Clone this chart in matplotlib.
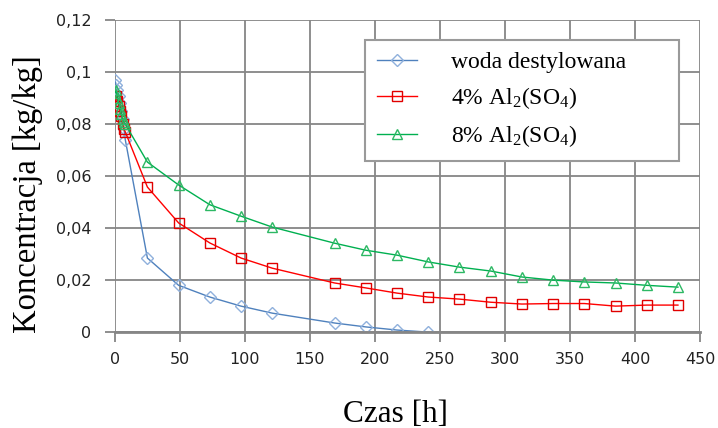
import matplotlib as mpl
import matplotlib.pyplot as plt
from matplotlib.ticker import FuncFormatter

mpl.rcParams['mathtext.fontset'] = 'custom'
mpl.rcParams['mathtext.rm'] = 'Liberation Serif'
mpl.rcParams['mathtext.it'] = 'Liberation Serif:italic'

# czasy pomiarow [h]
t_woda = [0, 1, 2, 3, 4, 5, 6, 7, 8, 25, 49, 73, 97, 121, 169, 193, 217, 241]
c_woda = [0.097, 0.095, 0.093, 0.091, 0.088, 0.085, 0.082, 0.078, 0.074,
          0.0285, 0.018, 0.0135, 0.010, 0.0073, 0.0035, 0.002, 0.0008, 0.0]

t_al = [0, 1, 2, 3, 4, 5, 6, 7, 8, 25, 49, 73, 97, 121, 169, 193, 217, 241,
        265, 289, 313, 337, 361, 385, 409, 433]
c_al4 = [0.087, 0.091, 0.089, 0.087, 0.085, 0.083, 0.080, 0.078, 0.077,
         0.0558, 0.042, 0.0343, 0.0285, 0.0246, 0.0189, 0.017, 0.015, 0.0135,
         0.0127, 0.0115, 0.0108, 0.011, 0.011, 0.010, 0.0104, 0.0104]
c_al8 = [0.092, 0.093, 0.090, 0.088, 0.086, 0.084, 0.082, 0.081, 0.080,
         0.0654, 0.0566, 0.049, 0.0446, 0.0404, 0.0342, 0.0315, 0.0296, 0.027,
         0.025, 0.0235, 0.0212, 0.020, 0.0193, 0.0189, 0.018, 0.0173]

labels = ['woda destylowana', r'4% Al$_2$(SO$_4$)', r'8% Al$_2$(SO$_4$)']

fig = plt.figure(figsize=(7.18, 4.28), dpi=100)
ax = fig.add_axes([0.160, 0.224, 0.815, 0.729])

ax.plot(t_woda, c_woda, color='#4F81BD', lw=1, marker='D', ms=6,
        mfc='none', mec='#8FB0DC', mew=1, label=labels[0])
ax.plot(t_al, c_al4, color='#FF0000', lw=1, marker='s', ms=7,
        mfc='none', mec='#E00000', mew=1, label=labels[1])
ax.plot(t_al, c_al8, color='#00B050', lw=1, marker='^', ms=7,
        mfc='none', mec='#2DB864', mew=1, label=labels[2])

ax.set_xlim(0, 450)
ax.set_ylim(0, 0.12)
ax.set_xticks(range(0, 451, 50))
ax.set_yticks([0, 0.02, 0.04, 0.06, 0.08, 0.1, 0.12])
ax.yaxis.set_major_formatter(FuncFormatter(lambda v, p: ('%g' % round(v, 2)).replace('.', ',')))

ax.grid(True, color='#868686', lw=1.3)
ax.set_axisbelow(True)
for s in ['top', 'right', 'left']:
    ax.spines[s].set_visible(False)
ax.spines['bottom'].set_color('#868686')
ax.spines['bottom'].set_linewidth(2)
ax.tick_params(axis='both', direction='out', length=7, width=1.3, color='#868686',
               labelsize=11.5, labelcolor='#222222')
ax.tick_params(axis='y', pad=10)
ax.tick_params(axis='x', pad=7)

ax.set_xlabel('Czas [h]', family='Liberation Serif', fontsize=22.5)
ax.xaxis.set_label_coords(0.479, -0.219)
ax.set_ylabel('Koncentracja [kg/kg]', family='Liberation Serif', fontsize=23.5)
ax.yaxis.set_label_coords(-0.123, 0.442)

leg = ax.legend(loc='upper left', bbox_to_anchor=(0.4274, 0.0, 0.537, 0.936),
                mode='expand', fancybox=False,
                prop={'family': 'Liberation Serif', 'size': 17}, handlelength=1.7,
                borderpad=0.5, labelspacing=0.5, handletextpad=1.45, borderaxespad=0)
leg.get_frame().set_edgecolor('#9a9a9a')
leg.get_frame().set_linewidth(1.5)
leg.get_frame().set_alpha(1)

fig.savefig('out.png', dpi=100)
